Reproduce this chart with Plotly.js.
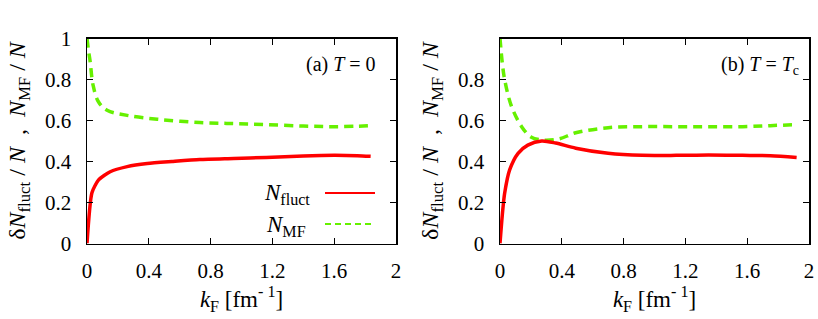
<!DOCTYPE html>
<html>
<head>
<meta charset="utf-8">
<script src="https://cdn.plot.ly/plotly-3.0.1.min.js"></script>
<style>html,body{margin:0;padding:0;background:#fff;}#chart{width:818px;height:319px;}</style>
</head>
<body>
<div id="chart"></div>
<script>
// Panel (a) T = 0
var kA_fluct = [0, 0.032, 0.075, 0.15, 0.26, 0.39, 0.55, 0.73, 0.95, 1.16, 1.4, 1.6, 1.75, 1.836];
var vA_fluct = [0, 0.248, 0.31, 0.35, 0.375, 0.39, 0.40, 0.41, 0.415, 0.42, 0.427, 0.43, 0.428, 0.425];
var kA_mf = [0, 0.01, 0.02, 0.04, 0.075, 0.13, 0.26, 0.47, 0.73, 0.95, 1.16, 1.4, 1.59, 1.75, 1.836];
var vA_mf = [1, 0.94, 0.89, 0.77, 0.69, 0.65, 0.625, 0.605, 0.59, 0.585, 0.58, 0.573, 0.57, 0.572, 0.575];
// Panel (b) T = Tc
var kB_fluct = [0, 0.015, 0.03, 0.063, 0.117, 0.18, 0.27, 0.36, 0.49, 0.70, 0.92, 1.14, 1.35, 1.57, 1.75, 1.92];
var vB_fluct = [0, 0.14, 0.245, 0.36, 0.44, 0.48, 0.50, 0.49, 0.465, 0.44, 0.43, 0.43, 0.432, 0.43, 0.428, 0.42];
var kB_mf = [0, 0.015, 0.03, 0.074, 0.14, 0.2, 0.27, 0.38, 0.49, 0.70, 0.92, 1.14, 1.35, 1.57, 1.75, 1.92];
var vB_mf = [1, 0.88, 0.80, 0.67, 0.57, 0.52, 0.505, 0.51, 0.54, 0.565, 0.57, 0.57, 0.57, 0.57, 0.575, 0.58];
var xTicks = [0, 0.4, 0.8, 1.2, 1.6, 2];
var xTickText = ['0', '0.4', '0.8', '1.2', '1.6', '2'];
var yTicksA = [0, 0.2, 0.4, 0.6, 0.8, 1];
var yTicksB = [0, 0.2, 0.4, 0.6, 0.8];

var RED = '#ff0000';
var GREEN = '#66f000';
var SERIF = 'Liberation Serif, Times New Roman, serif';

var traces = [
  {x: kA_mf, y: vA_mf, xaxis: 'x', yaxis: 'y', mode: 'lines', line: {color: GREEN, width: 3.5, dash: '9px,6px', shape: 'spline'}, name: 'N_MF'},
  {x: kA_fluct, y: vA_fluct, xaxis: 'x', yaxis: 'y', mode: 'lines', line: {color: RED, width: 3.5, shape: 'spline', smoothing: 0.6}, name: 'N_fluct'},
  {x: kB_mf, y: vB_mf, xaxis: 'x2', yaxis: 'y2', mode: 'lines', line: {color: GREEN, width: 3.5, dash: '9px,6px', shape: 'spline'}, name: 'N_MF'},
  {x: kB_fluct, y: vB_fluct, xaxis: 'x2', yaxis: 'y2', mode: 'lines', line: {color: RED, width: 3.5, shape: 'spline', smoothing: 0.8}, name: 'N_fluct'}
];

function pxX(v) { return v / 818; }
function pxY(v) { return (319 - v) / 319; }

var yTitle = '\u03B4<i>N</i><sub>fluct</sub> / <i>N</i>  ,  <i>N</i><sub>MF</sub> / <i>N</i>';
var xTitle = '<i>k</i><sub>F</sub> [fm<sup>- 1</sup>]';

function xAxis(domain, anchor) {
  return {
    domain: domain, anchor: anchor, range: [0, 2],
    tickmode: 'array', tickvals: xTicks, ticktext: xTickText,
    ticks: 'inside', ticklen: 6, tickwidth: 1, tickcolor: '#000',
    showline: true, linecolor: '#000', linewidth: 1.5, mirror: 'ticks',
    showgrid: false, zeroline: false, ticklabelstandoff: 8,
    tickfont: {family: SERIF, size: 21, color: '#000'},
    title: {text: xTitle, font: {family: SERIF, size: 23, color: '#000'}, standoff: 2}
  };
}
function yAxis(domain, anchor, ticks) {
  return {
    domain: domain, anchor: anchor, range: [0, 1],
    tickmode: 'array', tickvals: ticks,
    ticks: 'inside', ticklen: 6, tickwidth: 1, tickcolor: '#000',
    showline: true, linecolor: '#000', linewidth: 1.5, mirror: 'ticks',
    showgrid: false, zeroline: false, ticklabelstandoff: 10,
    tickfont: {family: SERIF, size: 21, color: '#000'},
    title: {text: yTitle, font: {family: SERIF, size: 24, color: '#000'}, standoff: 12}
  };
}

var yDom = [pxY(243.5), pxY(38.5)];
var layout = {
  width: 818, height: 319,
  margin: {l: 0, r: 0, t: 0, b: 0},
  paper_bgcolor: '#fff', plot_bgcolor: '#fff',
  showlegend: false,
  font: {family: SERIF, size: 20, color: '#000'},
  xaxis: xAxis([pxX(87), pxX(396)], 'y'),
  yaxis: yAxis(yDom, 'x', yTicksA),
  xaxis2: xAxis([pxX(500), pxX(809)], 'y2'),
  yaxis2: yAxis(yDom, 'x2', yTicksB),
  annotations: [
    {xref: 'paper', yref: 'paper', x: pxX(378), y: pxY(65), xanchor: 'right', yanchor: 'middle', showarrow: false,
     text: '(a) <i>T</i> = 0', font: {family: SERIF, size: 20, color: '#000'}},
    {xref: 'paper', yref: 'paper', x: pxX(801), y: pxY(66), xanchor: 'right', yanchor: 'middle', showarrow: false,
     text: '(b) <i>T</i> = <i>T</i><sub>c</sub>', font: {family: SERIF, size: 20, color: '#000'}},
    {xref: 'paper', yref: 'paper', x: pxX(312), y: pxY(194), xanchor: 'right', yanchor: 'middle', showarrow: false,
     text: '<i>N</i><sub>fluct</sub>', font: {family: SERIF, size: 23, color: '#000'}},
    {xref: 'paper', yref: 'paper', x: pxX(308), y: pxY(226), xanchor: 'right', yanchor: 'middle', showarrow: false,
     text: '<i>N</i><sub>MF</sub>', font: {family: SERIF, size: 23, color: '#000'}}
  ],
  shapes: [
    {type: 'line', xref: 'paper', yref: 'paper', x0: pxX(325), x1: pxX(375), y0: pxY(193), y1: pxY(193), line: {color: RED, width: 2}},
    {type: 'line', xref: 'paper', yref: 'paper', x0: pxX(325), x1: pxX(372), y0: pxY(224), y1: pxY(224), line: {color: GREEN, width: 2, dash: '6px,4px'}}
  ]
};

Plotly.newPlot('chart', traces, layout, {displayModeBar: false, staticPlot: true});
</script>
</body>
</html>
